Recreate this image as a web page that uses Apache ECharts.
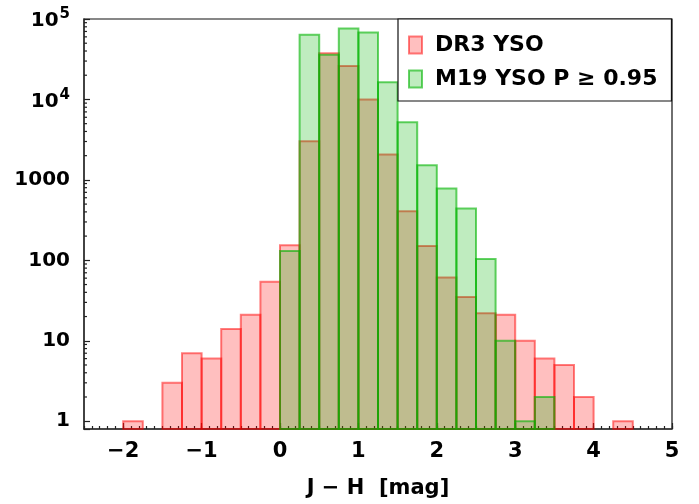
<!DOCTYPE html>
<html>
<head>
<meta charset="utf-8">
<script src="https://cdn.jsdelivr.net/npm/echarts@6/dist/echarts.min.js"></script>
<style>
  html, body { margin: 0; padding: 0; background: #fff; }
  #chart { width: 699px; height: 504px; }
</style>
</head>
<body>
<div id="chart"></div>
<script>
// ---- data ----
var binLeft = [-2, -1.75, -1.5, -1.25, -1, -0.75, -0.5, -0.25, 0, 0.25, 0.5, 0.75, 1, 1.25, 1.5, 1.75, 2, 2.25, 2.5, 2.75, 3, 3.25, 3.5, 3.75, 4, 4.25];
var binWidth = 0.25;
var dr3Counts = [1, 0, 3, 7, 6, 14, 21, 54, 154, 3030, 37600, 26000, 10000, 2070, 406, 151, 61, 35, 22, 21, 10, 6, 5, 2, 0, 1];
var m19Counts = [0, 0, 0, 0, 0, 0, 0, 0, 131, 63500, 36000, 76000, 68000, 16300, 5200, 1520, 780, 440, 104, 10, 1, 2, 0, 0, 0, 0];
var xTickValues = [-2, -1, 0, 1, 2, 3, 4, 5];
var yTickValues = [1, 10, 100, 1000, 10000, 100000];
var seriesNames = ['DR3 YSO', 'M19 YSO P \u2265 0.95'];

var FONT = 'DejaVu Sans';
var X_MIN = -2.5, X_MAX = 5, Y_MIN = 0.8, Y_MAX = 100000;

// minor log ticks (2..9 of each decade)
var yMinor = [];
for (var d = 1; d < Y_MAX; d *= 10) {
  for (var k = 2; k <= 9; k++) yMinor.push([k * d]);
}

function toItems(counts) {
  return binLeft.map(function (x, i) { return [x, x + binWidth, counts[i]]; });
}

function barRenderer(fill, stroke) {
  return function (params, api) {
    var x0 = api.value(0), x1 = api.value(1), c = api.value(2);
    if (!c) return null;
    var tl = api.coord([x0, c]);
    var br = api.coord([x1, Y_MIN]);
    return {
      type: 'rect',
      shape: { x: tl[0], y: tl[1], width: br[0] - tl[0], height: br[1] - tl[1] },
      style: { fill: fill, stroke: stroke, lineWidth: 2 }
    };
  };
}

var redFill = 'rgba(255,0,0,0.25)', redStroke = 'rgba(255,0,0,0.5)';
var greenFill = 'rgba(0,180,0,0.25)', greenStroke = 'rgba(0,180,0,0.6)';

var chart = echarts.init(document.getElementById('chart'), null, { renderer: 'canvas' });

var option = {
  animation: false,
  backgroundColor: '#fff',
  grid: { left: 84, right: 27, top: 19, bottom: 73, show: true, borderColor: '#111', borderWidth: 1.2, backgroundColor: 'transparent' },
  legend: {
    orient: 'vertical',
    left: 398,
    top: 19,
    width: 274,
    padding: [15, 14, 11, 10],
    itemGap: 12,
    itemWidth: 13,
    itemHeight: 17,
    icon: 'rect',
    backgroundColor: '#fff',
    borderColor: '#111',
    borderWidth: 1.2,
    borderRadius: 0,
    textStyle: { fontFamily: FONT, fontWeight: 'bold', fontSize: 22, color: '#000', padding: [0, 0, 0, 8] },
    data: [
      { name: seriesNames[0], itemStyle: { color: redFill, borderColor: redStroke, borderWidth: 2 } },
      { name: seriesNames[1], itemStyle: { color: greenFill, borderColor: greenStroke, borderWidth: 2 } }
    ]
  },
  xAxis: [
    {
      type: 'value', min: X_MIN, max: X_MAX, position: 'bottom',
      name: 'J \u2212 H  [mag]', nameLocation: 'middle', nameGap: 49,
      nameTextStyle: { fontFamily: FONT, fontWeight: 'bold', fontSize: 21, color: '#000' },
      axisLine: { show: true, onZero: false, lineStyle: { color: '#333', width: 1.5 } },
      axisTick: { show: true, inside: true, length: 6, customValues: xTickValues, lineStyle: { color: '#222', width: 1.2 } },
      axisLabel: {
        customValues: xTickValues, margin: 12,
        fontFamily: FONT, fontWeight: 'bold', fontSize: 21, color: '#000',
        formatter: function (v) { return v < 0 ? '\u2212' + Math.abs(v) : String(v); }
      },
      splitLine: { show: false }
    },
    {
      type: 'value', min: X_MIN, max: X_MAX, interval: 0.1, position: 'bottom',
      axisLine: { show: false, onZero: false },
      axisTick: { show: true, inside: true, length: 3, lineStyle: { color: '#222', width: 1.2 } },
      axisLabel: { show: false },
      splitLine: { show: false }
    }
  ],
  yAxis: {
    type: 'log', logBase: 10, min: Y_MIN, max: Y_MAX, position: 'left',
    axisLine: { show: true, onZero: false, lineStyle: { color: '#333', width: 1.5 } },
    axisTick: { show: true, inside: true, length: 6, lineStyle: { color: '#222', width: 1.2 } },
    splitLine: { show: false },
    axisLabel: {
      margin: 14, color: '#000',
      fontFamily: FONT, fontWeight: 'bold', fontSize: 19,
      formatter: function (v) {
        var e = Math.log10(v), r = Math.round(e);
        if (Math.abs(e - r) > 1e-6 || r < 0) return '';
        if (r >= 4) return '{b|10}{s|' + r + '}';
        return '{b|' + Math.round(Math.pow(10, r)) + '}';
      },
      rich: {
        b: { fontFamily: FONT, fontWeight: 'bold', fontSize: 20, color: '#000', verticalAlign: 'bottom' },
        s: { fontFamily: FONT, fontWeight: 'bold', fontSize: 15, color: '#000', verticalAlign: 'bottom', padding: [0, 0, 9, 1] }
      }
    }
  },
  series: [
    {
      name: seriesNames[0], type: 'custom', xAxisIndex: 0,
      renderItem: barRenderer(redFill, redStroke),
      encode: { x: [0, 1], y: 2 },
      itemStyle: { color: redFill, borderColor: redStroke, borderWidth: 2 },
      data: toItems(dr3Counts), z: 2
    },
    {
      name: seriesNames[1], type: 'custom', xAxisIndex: 0,
      renderItem: barRenderer(greenFill, greenStroke),
      encode: { x: [0, 1], y: 2 },
      itemStyle: { color: greenFill, borderColor: greenStroke, borderWidth: 2 },
      data: toItems(m19Counts), z: 3
    },
    {
      name: 'yMinorTicks', type: 'custom', xAxisIndex: 0, silent: true,
      renderItem: function (params, api) {
        var p = api.coord([X_MIN, api.value(0)]);
        return { type: 'line', shape: { x1: p[0], y1: p[1], x2: p[0] + 3, y2: p[1] }, style: { stroke: '#222', lineWidth: 1.2 } };
      },
      encode: { y: 0 },
      data: yMinor, z: 5
    }
  ]
};
chart.setOption(option);
</script>
</body>
</html>
